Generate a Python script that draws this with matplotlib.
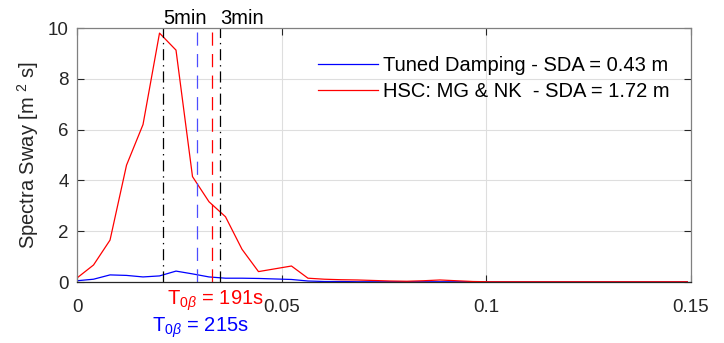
import matplotlib
matplotlib.use("Agg")
import matplotlib.pyplot as plt
from matplotlib.transforms import blended_transform_factory

plt.rcParams['font.family'] = ['Liberation Sans', 'DejaVu Sans']
plt.rcParams['mathtext.fontset'] = 'custom'
plt.rcParams['mathtext.rm'] = 'Liberation Sans'
plt.rcParams['mathtext.it'] = 'Liberation Sans:italic'
plt.rcParams['lines.scale_dashes'] = False

# Frequency grid [rad/s]
omega = [0.0, 0.00403, 0.00806, 0.01209, 0.01612, 0.02015, 0.02418, 0.02821,
         0.03224, 0.03627, 0.0403, 0.04433, 0.04836, 0.05239, 0.05642, 0.06045,
         0.06448, 0.06851, 0.07254, 0.07657, 0.0806, 0.08463, 0.08866, 0.09269,
         0.09672, 0.10075, 0.10478, 0.10881, 0.11284, 0.11687, 0.1209, 0.12493,
         0.12896, 0.13299, 0.13702, 0.14105, 0.14508, 0.14911]

tuned = [0.05, 0.11, 0.28, 0.26, 0.20, 0.24, 0.43, 0.32, 0.20, 0.15,
         0.15, 0.14, 0.12, 0.10, 0.04, 0.02, 0.02, 0.01, 0.01, 0.01,
         0.01, 0.01, 0.01, 0.01, 0.01, 0.0, 0.0, 0.0, 0.0, 0.0,
         0.0, 0.0, 0.0, 0.0, 0.0, 0.0, 0.0, 0.0]

hsc = [0.16, 0.67, 1.65, 4.60, 6.20, 9.80, 9.13, 4.15, 3.16, 2.57,
       1.29, 0.41, 0.52, 0.63, 0.15, 0.11, 0.09, 0.08, 0.06, 0.04,
       0.03, 0.05, 0.08, 0.05, 0.02, 0.01, 0.01, 0.01, 0.01, 0.01,
       0.01, 0.01, 0.01, 0.01, 0.01, 0.01, 0.01, 0.01]

labels = ['Tuned Damping - SDA = 0.43 m', 'HSC: MG & NK  - SDA = 1.72 m']

# Reference periods [s]
ref_periods = [300, 180]
ref_labels = ['5min', '3min']
t0_tuned = 215
t0_hsc = 191

pi2 = 6.283185307179586
FS = 14.5

fig = plt.figure(figsize=(7.24, 3.43), dpi=100)
ax = fig.add_axes([0.1064, 0.1778, 0.848, 0.7405])
xb = blended_transform_factory(ax.transData, ax.transAxes)

ax.plot(omega, tuned, color=(0, 0, 1), lw=0.9, label=labels[0])
ax.plot(omega, hsc, color=(1, 0, 0), lw=0.9, label=labels[1])

for T, lab in zip(ref_periods, ref_labels):
    w = pi2 / T
    ax.plot([w, w], [0, 10], color='black', lw=0.9, dashes=[8, 3.5, 1, 3.5])
    ax.text(w, 10.16, lab, ha='left', va='baseline', fontsize=FS, color='black')

w_t = pi2 / t0_tuned
w_h = pi2 / t0_hsc
ax.plot([w_t, w_t], [0, 10], color=(0.3, 0.3, 1), lw=0.9, dashes=[9.5, 6])
ax.plot([w_h, w_h], [0, 10], color=(1, 0, 0), lw=0.9, dashes=[9.5, 6])

ax.text(w_h + 0.0008, -0.025, r'T$_{0\beta}$ = %ds' % t0_hsc, color='red',
        fontsize=FS, ha='center', va='top', transform=xb)
ax.text(w_t + 0.0008, -0.13, r'T$_{0\beta}$ = %ds' % t0_tuned, color='blue',
        fontsize=FS, ha='center', va='top', transform=xb)

ax.set_xlim(0, 0.15)
ax.set_ylim(0, 10)
ax.set_xticks([0, 0.05, 0.1, 0.15])
ax.set_xticklabels(['0', '0.05', '0.1', '0.15'])
ax.set_yticks([0, 2, 4, 6, 8, 10])
ax.grid(True, color='#dedede', lw=0.8)
ax.set_axisbelow(True)

ax.tick_params(direction='in', length=5, width=0.8, top=True, right=True,
               labelsize=13.5, colors='#262626')
ax.tick_params(axis='x', pad=12)
ax.tick_params(axis='y', pad=6)
for s in ['left', 'right', 'top']:
    ax.spines[s].set_color('#808080')
ax.spines['bottom'].set_color('#262626')
for s in ax.spines.values():
    s.set_linewidth(0.9)

ax.set_ylabel(r'Spectra Sway [m $^{2}$ s]', fontsize=FS, color='#262626',
              labelpad=5)

leg = ax.legend(loc='center left', bbox_to_anchor=(0.3925, 0.801), frameon=False,
                fontsize=FS, handlelength=3.0, handletextpad=0.25,
                labelspacing=0.35, borderpad=0, borderaxespad=0)

fig.savefig('out.png', dpi=100)
